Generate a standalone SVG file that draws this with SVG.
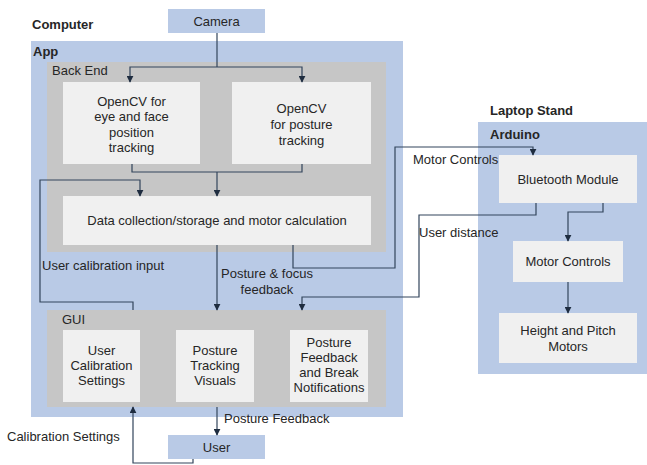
<svg xmlns="http://www.w3.org/2000/svg" width="647" height="465" viewBox="0 0 647 465">
  <style>
    .blue { fill: #b9cae6; }
    .grey { fill: #c6c6c6; }
    .box { fill: #f0f0f0; }
    .cam { fill: #b9cae6; }
    text { font-family: "Liberation Sans", Arial, sans-serif; font-size: 13px; fill: #262626; }
    .c { text-anchor: middle; }
    .b { font-weight: bold; }
    .wire { fill: none; stroke: #33455c; stroke-width: 1.2; }
    .arr { marker-end: url(#tip); }
  </style>
  <defs>
    <marker id="tip" viewBox="0 0 10 10" refX="9" refY="5" markerWidth="7" markerHeight="7" markerUnits="userSpaceOnUse" orient="auto">
      <path d="M0,0 L10,5 L0,10 z" fill="#1f2d40"/>
    </marker>
  </defs>

  <rect width="647" height="465" fill="#ffffff"/>

  <!-- Computer / App container -->
  <g id="computer">
    <text x="32" y="29" class="b">Computer</text>
    <rect class="blue" x="31" y="41" width="372" height="376"/>
    <text x="33" y="56" class="b">App</text>
  </g>

  <g id="backend">
    <rect class="grey" x="47" y="62" width="339" height="190"/>
    <text x="52" y="75">Back End</text>
  </g>

  <g id="gui">
    <rect class="grey" x="47" y="310" width="339" height="97"/>
    <text x="62" y="324">GUI</text>
  </g>

  <!-- Laptop Stand / Arduino container -->
  <g id="laptop-stand">
    <text x="490" y="115" class="b">Laptop Stand</text>
    <rect class="blue" x="478" y="122" width="169" height="252"/>
    <text x="490" y="139" class="b">Arduino</text>
  </g>

  <g id="camera">
    <rect class="cam" x="168" y="9" width="97" height="24"/>
    <text x="216.5" y="25.5" class="c">Camera</text>
  </g>

  <g id="opencv-face">
    <rect class="box" x="63" y="82" width="137" height="82"/>
    <text x="131.5" y="106" class="c">OpenCV for</text>
    <text x="131.5" y="121" class="c">eye and face</text>
    <text x="131.5" y="137" class="c">position</text>
    <text x="131.5" y="152" class="c">tracking</text>
  </g>

  <g id="opencv-posture">
    <rect class="box" x="232" y="82" width="139" height="82"/>
    <text x="301.5" y="113" class="c">OpenCV</text>
    <text x="301.5" y="129" class="c">for posture</text>
    <text x="301.5" y="145" class="c">tracking</text>
  </g>

  <g id="data-calc">
    <rect class="box" x="63" y="196" width="308" height="49"/>
    <text x="217" y="225" class="c">Data collection/storage and motor calculation</text>
  </g>

  <g id="user-calibration">
    <rect class="box" x="63" y="330" width="77" height="72"/>
    <text x="101.5" y="355" class="c">User</text>
    <text x="101.5" y="370" class="c">Calibration</text>
    <text x="101.5" y="385" class="c">Settings</text>
  </g>

  <g id="posture-visuals">
    <rect class="box" x="176" y="330" width="78" height="72"/>
    <text x="215" y="355" class="c">Posture</text>
    <text x="215" y="370" class="c">Tracking</text>
    <text x="215" y="385" class="c">Visuals</text>
  </g>

  <g id="posture-feedback">
    <rect class="box" x="290" y="330" width="78" height="72"/>
    <text x="329" y="347" class="c">Posture</text>
    <text x="329" y="362" class="c">Feedback</text>
    <text x="329" y="377" class="c">and Break</text>
    <text x="329" y="392" class="c">Notifications</text>
  </g>

  <g id="bluetooth">
    <rect class="box" x="499" y="155" width="138" height="48"/>
    <text x="568" y="184" class="c">Bluetooth Module</text>
  </g>

  <g id="motor-controls">
    <rect class="box" x="513" y="241" width="110" height="41"/>
    <text x="568" y="266" class="c">Motor Controls</text>
  </g>

  <g id="motors">
    <rect class="box" x="499" y="313" width="138" height="50"/>
    <text x="568" y="335" class="c">Height and Pitch</text>
    <text x="568" y="351" class="c">Motors</text>
  </g>

  <g id="user">
    <rect class="cam" x="168" y="435" width="97" height="24"/>
    <text x="216.5" y="451.5" class="c">User</text>
  </g>

  <!-- Connectors -->
  <g id="connectors">
    <path class="wire" d="M217,33 V67"/>
    <path class="wire arr" d="M217,67 H130 V82"/>
    <path class="wire arr" d="M217,67 H302 V82"/>

    <path class="wire" d="M132,164 V172 H302 V164"/>
    <path class="wire arr" d="M217,172 V196"/>

    <path class="wire arr" d="M133,310 V302 H40 V180 H140 V196"/>

    <path class="wire arr" d="M217,245 V310"/>

    <path class="wire arr" d="M293,245 V268 H395 V147 H533 V155"/>

    <path class="wire arr" d="M536,203 V215 H419 V297 H302 V310"/>

    <path class="wire arr" d="M603,203 V212 H568 V241"/>
    <path class="wire arr" d="M568,282 V313"/>

    <path class="wire arr" d="M217,407 V435"/>

    <path class="wire arr" d="M193,459 V463 H133 V407"/>
  </g>

  <g id="labels">
    <text x="42" y="270">User calibration input</text>
    <text x="267" y="278" class="c">Posture &amp; focus</text>
    <text x="267" y="294" class="c">feedback</text>
    <text x="413" y="164">Motor Controls</text>
    <text x="419" y="237">User distance</text>
    <text x="224" y="423">Posture Feedback</text>
    <text x="7" y="441">Calibration Settings</text>
  </g>
</svg>
